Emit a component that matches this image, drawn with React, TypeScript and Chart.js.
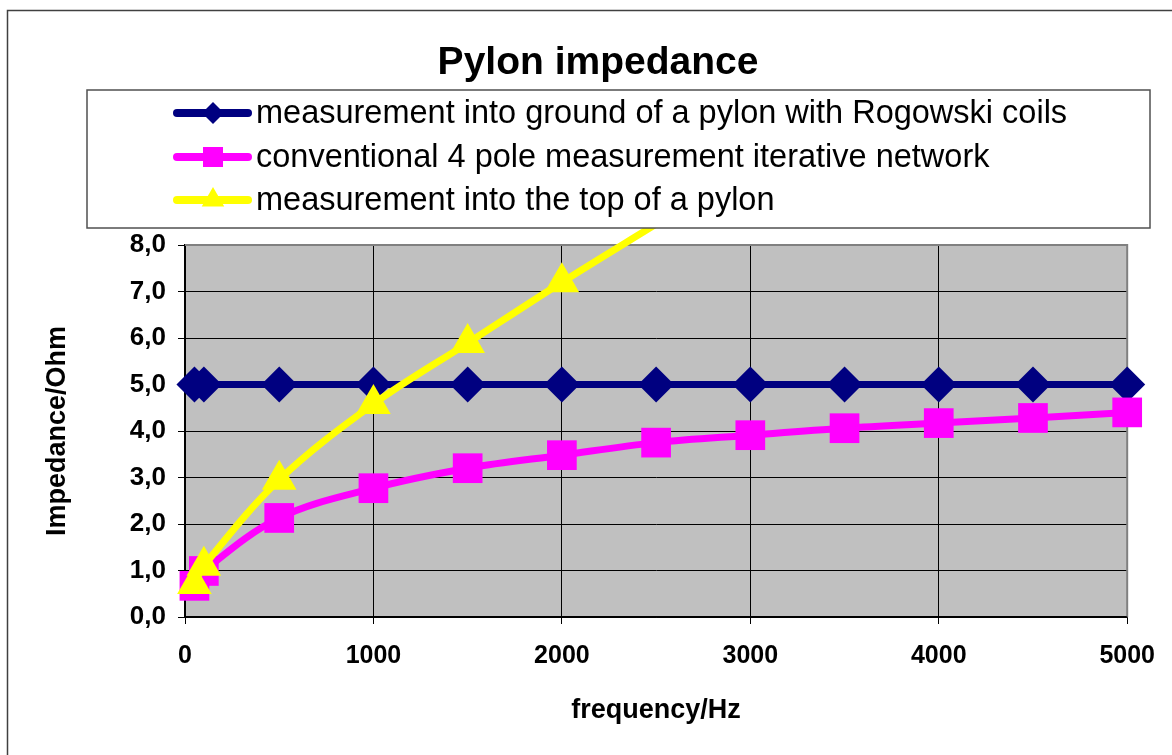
import React, { useEffect, useRef } from "react";
import { Chart, registerables } from "chart.js";

Chart.register(...registerables);

const FONT = "'Liberation Sans', Arial, sans-serif";

const chartTitle = "Pylon impedance";
const xTitle = "frequency/Hz";
const yTitle = "Impedance/Ohm";

const frequencies = [50, 100, 500, 1000, 1500, 2000, 2500, 3000, 3500, 4000, 4500, 5000];
const rogowskiValues = [5.0, 5.0, 5.0, 5.0, 5.0, 5.0, 5.0, 5.0, 5.0, 5.0, 5.0, 5.0];
const conventionalValues = [0.67, 0.99, 2.13, 2.77, 3.2, 3.48, 3.75, 3.91, 4.06, 4.17, 4.28, 4.4];
const topFrequencies = [50, 100, 500, 1000, 1500, 2000, 2500];
const topValues = [0.71, 1.1, 2.95, 4.58, 5.89, 7.2, 8.45];

const seriesNames = [
  "measurement into ground of a pylon with Rogowski coils",
  "conventional 4 pole measurement iterative network",
  "measurement into the top of a pylon",
];
const seriesColors = ["#000080", "#FF00FF", "#FFFF00"];
const seriesMarkers = ["rectRot", "rect", "triangle"];

const xTicks = [0, 1000, 2000, 3000, 4000, 5000];
const yTicks = [0, 1, 2, 3, 4, 5, 6, 7, 8];

const Y_MAX = 8;

function drawMarker(ctx: CanvasRenderingContext2D, style: string, x: number, y: number, r: number) {
  ctx.beginPath();
  if (style === "rectRot") {
    ctx.moveTo(x, y - r);
    ctx.lineTo(x + r, y);
    ctx.lineTo(x, y + r);
    ctx.lineTo(x - r, y);
  } else if (style === "rect") {
    ctx.rect(x - r, y - r, 2 * r, 2 * r);
  } else {
    ctx.moveTo(x, y - r);
    ctx.lineTo(x + r * 0.866, y + r * 0.5);
    ctx.lineTo(x - r * 0.866, y + r * 0.5);
  }
  ctx.closePath();
  ctx.fill();
}

const decorPlugin = {
  id: "decor",
  beforeDraw(chart: any) {
    const ctx = chart.ctx as CanvasRenderingContext2D;
    const a = chart.chartArea;
    ctx.save();
    ctx.fillStyle = "#FFFFFF";
    ctx.fillRect(0, 0, chart.width, chart.height);
    ctx.fillStyle = "#C0C0C0";
    ctx.fillRect(a.left, a.top, a.right - a.left, a.bottom - a.top);
    ctx.restore();
  },
  beforeDatasetsDraw(chart: any) {
    const ctx = chart.ctx as CanvasRenderingContext2D;
    const a = chart.chartArea;
    ctx.save();
    ctx.strokeStyle = "#808080";
    ctx.lineWidth = 2;
    ctx.beginPath();
    ctx.moveTo(a.left, a.top);
    ctx.lineTo(a.right, a.top);
    ctx.lineTo(a.right, a.bottom);
    ctx.stroke();
    ctx.strokeStyle = "#000000";
    ctx.lineWidth = 1.5;
    ctx.beginPath();
    ctx.moveTo(a.left, a.bottom);
    ctx.lineTo(a.right, a.bottom);
    ctx.stroke();
    ctx.restore();
  },
  afterDraw(chart: any) {
    const ctx = chart.ctx as CanvasRenderingContext2D;
    ctx.save();
    // outer chart border
    ctx.strokeStyle = "#404040";
    ctx.lineWidth = 1.5;
    ctx.strokeRect(7.5, 10.5, 1300, 900);
    // title
    ctx.fillStyle = "#000000";
    ctx.font = `bold 39px ${FONT}`;
    ctx.textAlign = "center";
    ctx.textBaseline = "alphabetic";
    ctx.fillText(chartTitle, 598, 74);
    // legend box
    ctx.fillStyle = "#FFFFFF";
    ctx.fillRect(87, 90, 1063, 138);
    ctx.strokeStyle = "#505050";
    ctx.lineWidth = 1.5;
    ctx.strokeRect(87, 90, 1063, 138);
    const rows = [113, 157, 200];
    const markerR = [11, 10, 13];
    seriesNames.forEach((name, i) => {
      const y = rows[i];
      ctx.strokeStyle = seriesColors[i];
      ctx.fillStyle = seriesColors[i];
      ctx.lineWidth = 8;
      ctx.lineCap = "round";
      ctx.beginPath();
      ctx.moveTo(177, y);
      ctx.lineTo(248, y);
      ctx.stroke();
      drawMarker(ctx, seriesMarkers[i], 213, y, markerR[i]);
      ctx.fillStyle = "#000000";
      ctx.font = `32.5px ${FONT}`;
      ctx.textAlign = "left";
      ctx.textBaseline = "middle";
      ctx.fillText(name, 256, y + 1);
    });
    ctx.restore();
  },
};

export default function App() {
  const canvasRef = useRef<HTMLCanvasElement | null>(null);

  useEffect(() => {
    if (!canvasRef.current) return;
    const chart = new Chart(canvasRef.current, {
      type: "line",
      data: {
        datasets: [
          {
            label: seriesNames[0],
            data: frequencies.map((f, i) => ({ x: f, y: rogowskiValues[i] })),
            borderColor: seriesColors[0],
            backgroundColor: seriesColors[0],
            borderWidth: 7,
            pointStyle: "rectRot",
            pointRadius: 18,
            pointBorderWidth: 0,
            pointBackgroundColor: seriesColors[0],
            tension: 0,
            order: 3,
            clip: false as any,
          },
          {
            label: seriesNames[1],
            data: frequencies.map((f, i) => ({ x: f, y: conventionalValues[i] })),
            borderColor: seriesColors[1],
            backgroundColor: seriesColors[1],
            borderWidth: 7,
            pointStyle: "rect",
            pointRadius: 21,
            pointBorderWidth: 0,
            pointBackgroundColor: seriesColors[1],
            tension: 0.35,
            order: 2,
            clip: false as any,
          },
          {
            label: seriesNames[2],
            data: topFrequencies.map((f, i) => ({ x: f, y: topValues[i] })),
            borderColor: seriesColors[2],
            backgroundColor: seriesColors[2],
            borderWidth: 7,
            pointStyle: "triangle",
            pointRadius: (c: any) => (c.parsed && c.parsed.y > Y_MAX ? 0 : 20),
            pointBorderWidth: 0,
            pointBackgroundColor: seriesColors[2],
            tension: 0.35,
            order: 1,
            clip: { left: 30, top: 17, right: 30, bottom: 30 } as any,
          },
        ],
      },
      options: {
        animation: false,
        responsive: true,
        maintainAspectRatio: false,
        layout: { padding: { top: 245, right: 43, left: 0, bottom: 0 } },
        plugins: {
          legend: { display: false },
          title: { display: false },
          tooltip: { enabled: false },
        },
        scales: {
          x: {
            type: "linear",
            min: 0,
            max: 5000,
            afterFit: (s: any) => {
              s.height = 138;
            },
            afterBuildTicks: (s: any) => {
              s.ticks = xTicks.map((v) => ({ value: v }));
            },
            ticks: {
              color: "#000000",
              padding: 17,
              maxRotation: 0,
              font: { family: FONT, size: 25, weight: "bold" },
              callback: (v: any) => String(v),
            },
            grid: { color: "#000000", lineWidth: 1, tickLength: 7, drawTicks: true },
            border: { display: true, color: "#000000", width: 1.5 },
            title: {
              display: true,
              text: xTitle,
              color: "#000000",
              font: { family: FONT, size: 27, weight: "bold" },
              padding: { top: 0, bottom: 28 },
            },
          },
          y: {
            type: "linear",
            min: 0,
            max: Y_MAX,
            afterFit: (s: any) => {
              s.width = 185;
            },
            afterBuildTicks: (s: any) => {
              s.ticks = yTicks.map((v) => ({ value: v }));
            },
            ticks: {
              color: "#000000",
              padding: 12,
              font: { family: FONT, size: 26, weight: "bold" },
              callback: (v: any) => Number(v).toFixed(1).replace(".", ","),
            },
            grid: { color: "#000000", lineWidth: 1, tickLength: 7, drawTicks: true },
            border: { display: true, color: "#000000", width: 1.5 },
            title: {
              display: true,
              text: yTitle,
              color: "#000000",
              font: { family: FONT, size: 27, weight: "bold" },
              padding: { top: 41, bottom: 0 },
            },
          },
        },
      },
      plugins: [decorPlugin],
    });
    return () => chart.destroy();
  }, []);

  return (
    <div style={{ position: "absolute", left: 0, top: 0, width: 1172, height: 755 }}>
      <canvas ref={canvasRef} />
    </div>
  );
}
